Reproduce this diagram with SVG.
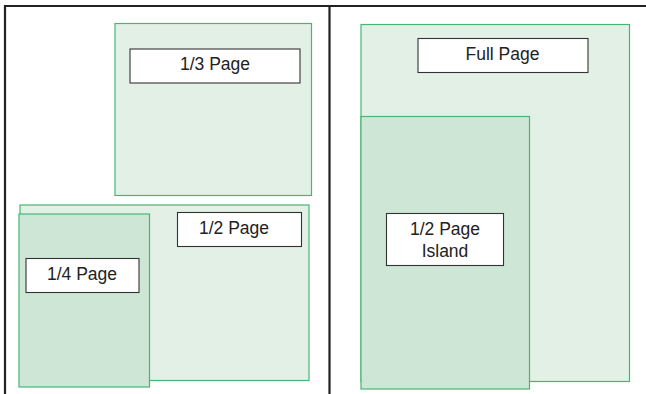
<svg xmlns="http://www.w3.org/2000/svg" width="646" height="394" viewBox="0 0 646 394">
  <style>
    .frame { stroke: #222; stroke-width: 2.2; fill: none; }
    .area { fill: #e3f0e6; stroke: #45b774; stroke-width: 1.2; }
    .area-dark { fill: #cde6d6; stroke: #45b774; stroke-width: 1.2; }
    .label { fill: #fff; stroke: #333; stroke-width: 1.1; }
    text { font-family: "Liberation Sans", Arial, sans-serif; font-size: 17.5px; fill: #222; text-anchor: middle; }
  </style>
  <rect width="646" height="394" fill="#fff"/>

  <!-- page frame: top rule, left edge, centre divider -->
  <g id="frame">
    <path class="frame" d="M5 394 V6 H646 M329.5 6 V394"/>
  </g>

  <!-- left page -->
  <g id="third-page">
    <rect class="area" x="115" y="23.5" width="196.5" height="172"/>
    <rect class="label" x="130" y="49" width="170" height="34"/>
    <text x="215" y="70">1/3 Page</text>
  </g>
  <g id="half-page">
    <rect class="area" x="20" y="205" width="289" height="175.5"/>
    <rect class="label" x="177.5" y="212.5" width="124" height="34"/>
    <text x="234" y="233.5">1/2 Page</text>
  </g>
  <g id="quarter-page">
    <rect class="area-dark" x="19" y="214" width="130.5" height="173"/>
    <rect class="label" x="26" y="258.5" width="113" height="34"/>
    <text x="82" y="279.5">1/4 Page</text>
  </g>

  <!-- right page -->
  <g id="full-page">
    <rect class="area" x="361" y="24.5" width="268.5" height="357"/>
    <rect class="label" x="418" y="38.5" width="170" height="34"/>
    <text x="502.5" y="59.5">Full Page</text>
  </g>
  <g id="half-page-island">
    <rect class="area-dark" x="361" y="116.5" width="168.5" height="272.5"/>
    <rect class="label" x="386.5" y="213.5" width="117" height="52"/>
    <text x="445" y="235">1/2 Page</text>
    <text x="445" y="256.5">Island</text>
  </g>

  <!-- no connectors in this layout -->
  <g id="connectors"/>
</svg>
